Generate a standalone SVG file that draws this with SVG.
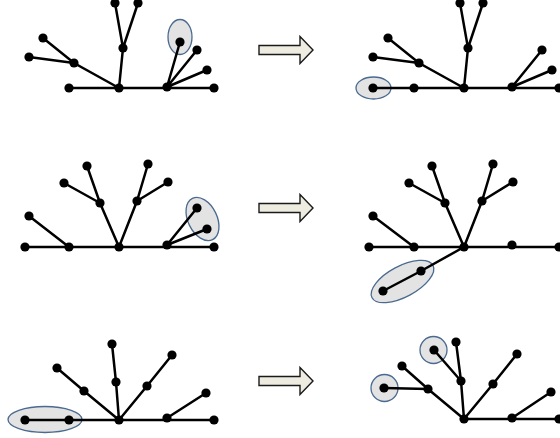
<svg xmlns="http://www.w3.org/2000/svg" width="560" height="438" viewBox="0 0 560 438">
<style>
.e{stroke:#000;stroke-width:2.5;fill:none;stroke-linecap:round}
.n{fill:#000}
.h{fill:#E3E3E3;stroke:#4A6A90;stroke-width:1.3}
.a{fill:#EEECE1;stroke:#1a1a1a;stroke-width:1.4;stroke-linejoin:miter}
</style>
<defs>
<circle id="d" r="4.6" class="n"/>
<path id="arr" class="a" d="M0,-4.5 L41,-4.5 L41,-13.5 L54,0 L41,13.5 L41,4.5 L0,4.5 Z"/>
</defs>
<rect width="560" height="438" fill="#fff"/>

<g id="highlights">
<ellipse class="h" cx="180" cy="37" rx="12" ry="17.5"/>
<ellipse class="h" cx="373.5" cy="88" rx="17.5" ry="11"/>
<ellipse class="h" cx="202.5" cy="219" rx="14.5" ry="23" transform="rotate(-26 202.5 219)"/>
<ellipse class="h" cx="402.5" cy="281.5" rx="34.5" ry="15.5" transform="rotate(-28 402.5 281.5)"/>
<ellipse class="h" cx="45" cy="419.5" rx="37" ry="13"/>
<circle class="h" cx="433.5" cy="350" r="13.5"/>
<circle class="h" cx="384.5" cy="388" r="13.5"/>
</g>

<g id="connectors">
<path class="e" d="M69,88 L214,88 M119,88 L123,48 L115,3 M123,48 L138,3 M119,88 L74,63 L43,38 M74,63 L29,57 M167,87 L180,42 M167,87 L197,50 M167,87 L207,70"/>
<path class="e" d="M373,88 L559,88 M464,88 L468,48 L460,3 M468,48 L483,3 M464,88 L419,63 L388,38 M419,63 L373,57 M512,87 L542,50 M512,87 L552,70"/>
<path class="e" d="M25,247 L214,247 M119,247 L100,203 L87,166 M100,203 L64,183 M119,247 L137,201 L148,164 M137,201 L168,182 M69,247 L29,216 M167,245 L197,208 M167,245 L207,229"/>
<path class="e" d="M369,247 L559,247 M464,247 L445,203 L432,166 M445,203 L409,183 M464,247 L482,201 L493,164 M482,201 L513,182 M414,247 L373,216 M464,247 L421,271 L383,291"/>
<path class="e" d="M25,420 L214,420 M119,420 L116,382 L112,344 M119,420 L84,391 L57,368 M119,420 L147,386 L172,355 M167,418 L206,393"/>
<path class="e" d="M464,419 L559,419 M464,419 L461,381 L456,342 M461,381 L434,350 M464,419 L428,389 L402,366 M428,389 L384,388 M464,419 L493,384 L517,354 M512,418 L551,392"/>
</g>

<g id="panel1">
<use href="#d" x="115" y="3"/><use href="#d" x="138" y="3"/><use href="#d" x="123" y="48"/>
<use href="#d" x="43" y="38"/><use href="#d" x="29" y="57"/><use href="#d" x="74" y="63"/>
<use href="#d" x="69" y="88"/><use href="#d" x="119" y="88"/><use href="#d" x="167" y="87"/><use href="#d" x="214" y="88"/>
<use href="#d" x="180" y="42"/><use href="#d" x="197" y="50"/><use href="#d" x="207" y="70"/>
</g>
<g id="panel2">
<use href="#d" x="460" y="3"/><use href="#d" x="483" y="3"/><use href="#d" x="468" y="48"/>
<use href="#d" x="388" y="38"/><use href="#d" x="373" y="57"/><use href="#d" x="419" y="63"/>
<use href="#d" x="373" y="88"/><use href="#d" x="414" y="88"/><use href="#d" x="464" y="88"/><use href="#d" x="512" y="87"/><use href="#d" x="559" y="88"/>
<use href="#d" x="542" y="50"/><use href="#d" x="552" y="70"/>
</g>
<g id="panel3">
<use href="#d" x="87" y="166"/><use href="#d" x="64" y="183"/><use href="#d" x="100" y="203"/>
<use href="#d" x="148" y="164"/><use href="#d" x="168" y="182"/><use href="#d" x="137" y="201"/>
<use href="#d" x="29" y="216"/><use href="#d" x="25" y="247"/><use href="#d" x="69" y="247"/><use href="#d" x="119" y="247"/>
<use href="#d" x="167" y="245"/><use href="#d" x="214" y="247"/><use href="#d" x="197" y="208"/><use href="#d" x="207" y="229"/>
</g>
<g id="panel4">
<use href="#d" x="432" y="166"/><use href="#d" x="409" y="183"/><use href="#d" x="445" y="203"/>
<use href="#d" x="493" y="164"/><use href="#d" x="513" y="182"/><use href="#d" x="482" y="201"/>
<use href="#d" x="373" y="216"/><use href="#d" x="369" y="247"/><use href="#d" x="414" y="247"/><use href="#d" x="464" y="247"/>
<use href="#d" x="512" y="245"/><use href="#d" x="559" y="247"/><use href="#d" x="421" y="271"/><use href="#d" x="383" y="291"/>
</g>
<g id="panel5">
<use href="#d" x="112" y="344"/><use href="#d" x="172" y="355"/><use href="#d" x="57" y="368"/>
<use href="#d" x="84" y="391"/><use href="#d" x="116" y="382"/><use href="#d" x="147" y="386"/><use href="#d" x="206" y="393"/>
<use href="#d" x="25" y="420"/><use href="#d" x="69" y="420"/><use href="#d" x="119" y="420"/><use href="#d" x="167" y="418"/><use href="#d" x="214" y="420"/>
</g>
<g id="panel6">
<use href="#d" x="456" y="342"/><use href="#d" x="434" y="350"/><use href="#d" x="517" y="354"/>
<use href="#d" x="402" y="366"/><use href="#d" x="461" y="381"/><use href="#d" x="493" y="384"/>
<use href="#d" x="428" y="389"/><use href="#d" x="384" y="388"/><use href="#d" x="551" y="392"/>
<use href="#d" x="464" y="419"/><use href="#d" x="512" y="418"/><use href="#d" x="559" y="419"/>
</g>

<g id="arrows">
<use href="#arr" x="259" y="50"/>
<use href="#arr" x="259" y="208"/>
<use href="#arr" x="259" y="381"/>
</g>
</svg>
